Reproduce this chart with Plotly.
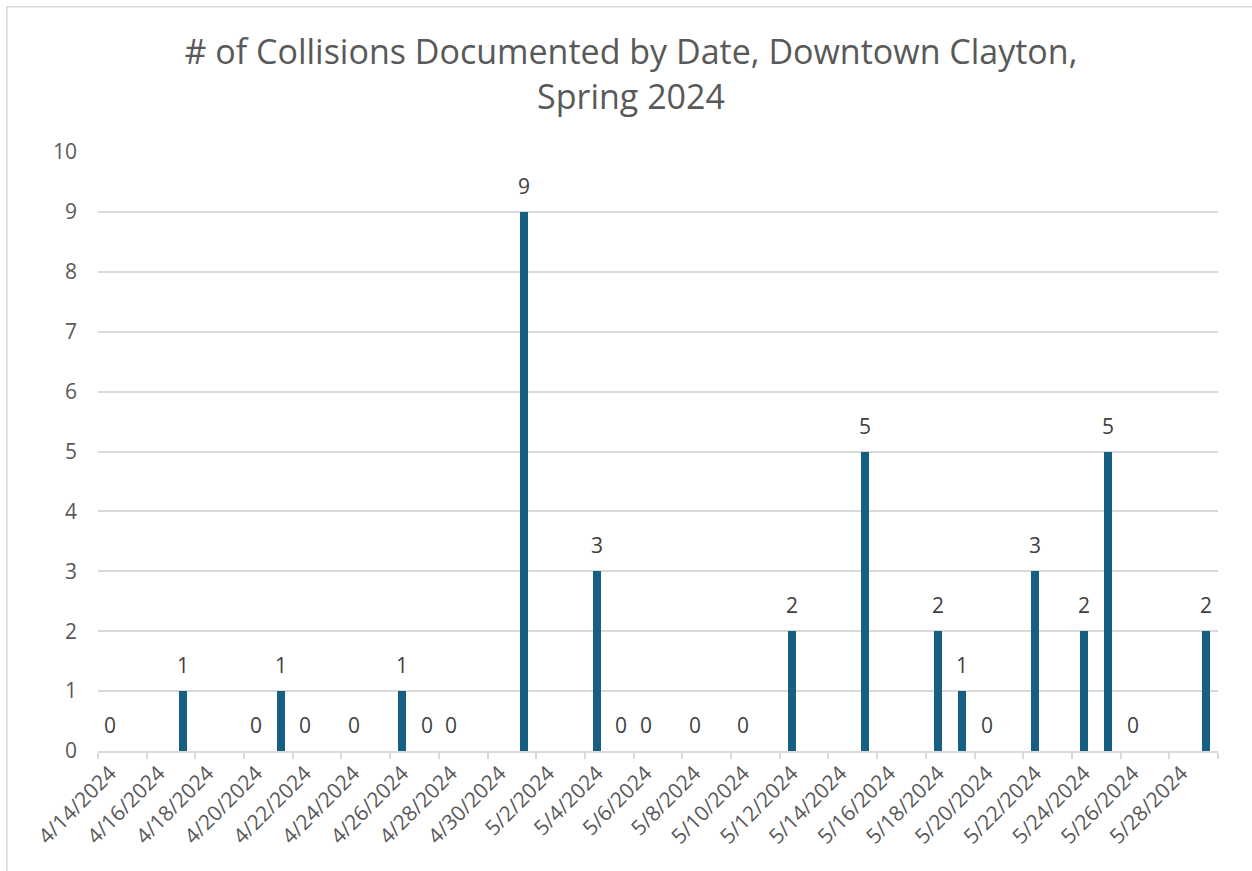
import plotly.graph_objects as go
import pandas as pd

# Collision counts recorded on each survey date
dates = [
    "2024-04-14", "2024-04-17", "2024-04-20", "2024-04-21", "2024-04-22",
    "2024-04-24", "2024-04-26", "2024-04-27", "2024-04-28", "2024-05-01",
    "2024-05-04", "2024-05-05", "2024-05-06", "2024-05-08", "2024-05-10",
    "2024-05-12", "2024-05-15", "2024-05-18", "2024-05-19", "2024-05-20",
    "2024-05-22", "2024-05-24", "2024-05-25", "2024-05-26", "2024-05-29",
]
collisions = [0, 1, 0, 1, 0, 0, 1, 0, 0, 9, 3, 0, 0, 0, 0, 2, 5, 2, 1, 0, 3, 2, 5, 0, 2]

# Axis labels every second day
tick_dates = pd.date_range("2024-04-14", "2024-05-28", freq="2D")
tick_labels = [f"{d.month}/{d.day}/{d.year}" for d in tick_dates]

DAY_MS = 86400000
BAR = "#156082"
TXT = "#595959"
GRID = "#d9d9d9"
FONT = "Open Sans, Liberation Sans, sans-serif"

fig = go.Figure()
fig.add_trace(go.Bar(
    x=dates, y=collisions,
    width=0.33 * DAY_MS,
    marker=dict(color=BAR, line=dict(width=0)),
    hoverinfo="x+y",
))

# Value labels above each bar
for d, v in zip(dates, collisions):
    fig.add_annotation(
        x=d, y=v, text=str(v), showarrow=False,
        yanchor="middle", yshift=26,
        font=dict(family=FONT, size=21, color="#404040"),
    )

# Light chart-area border
fig.add_shape(
    type="rect", xref="paper", yref="paper",
    x0=-0.0813, x1=1.05, y0=-0.25, y1=1.2424,
    line=dict(color=GRID, width=1.5), fillcolor="rgba(0,0,0,0)", layer="below",
)

fig.update_layout(
    width=1252, height=871,
    margin=dict(l=98, r=34, t=152, b=120),
    paper_bgcolor="white", plot_bgcolor="white",
    showlegend=False,
    bargap=0,
    title=dict(
        text="# of Collisions Documented by Date, Downtown Clayton,<br>Spring 2024",
        x=0.504, xanchor="center", xref="container",
        y=0.926, yanchor="middle", yref="container",
        font=dict(family=FONT, size=34, color=TXT),
    ),
    xaxis=dict(
        type="date",
        range=["2024-04-13 12:00", "2024-05-29 12:00"],
        tickmode="array", tickvals=list(tick_dates), ticktext=tick_labels,
        tickangle=-45, ticks="",
        tickfont=dict(family=FONT, size=21, color=TXT),
        showgrid=False, zeroline=False,
        showline=True, linecolor=GRID, linewidth=1.5,
        minor=dict(
            ticks="outside", ticklen=6, tickcolor=GRID, tickwidth=1.5,
            tick0="2024-04-13 12:00", dtick=2 * DAY_MS, showgrid=False,
        ),
    ),
    yaxis=dict(
        range=[0, 10], dtick=1, tick0=0,
        ticks="", ticklabelstandoff=20,
        tickfont=dict(family=FONT, size=21, color=TXT),
        showgrid=True, gridcolor=GRID, gridwidth=1.5,
        zeroline=False, showline=False,
    ),
)

fig.write_html("out.html")
